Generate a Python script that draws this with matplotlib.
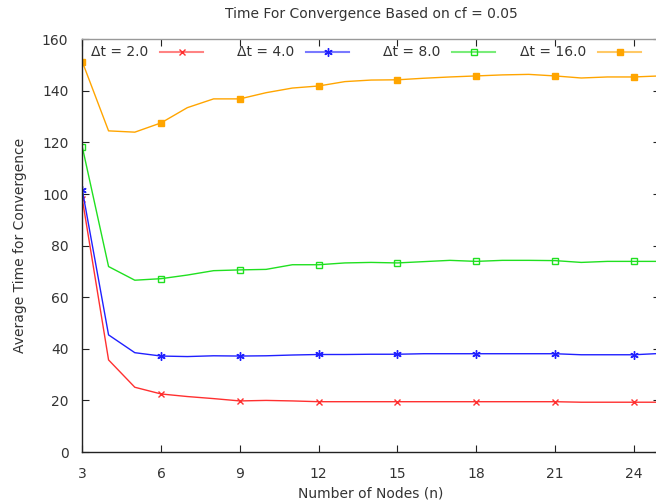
import matplotlib
matplotlib.use("Agg")
import matplotlib.pyplot as plt
from matplotlib.lines import Line2D

nodes = list(range(3, 26))
dt2 = [98.1, 35.7, 25.1, 22.5, 21.5, 20.7, 19.8, 20.0, 19.8, 19.5, 19.5, 19.5,
       19.5, 19.5, 19.5, 19.5, 19.5, 19.5, 19.5, 19.3, 19.3, 19.3, 19.3]
dt4 = [101.6, 45.4, 38.5, 37.2, 37.0, 37.3, 37.2, 37.3, 37.6, 37.8, 37.8, 37.9,
       37.9, 38.1, 38.1, 38.1, 38.1, 38.1, 38.1, 37.7, 37.7, 37.7, 38.2]
dt8 = [118.3, 71.9, 66.6, 67.2, 68.6, 70.3, 70.6, 70.8, 72.6, 72.6, 73.3, 73.5,
       73.3, 73.8, 74.3, 73.9, 74.3, 74.3, 74.2, 73.5, 73.9, 73.9, 73.9]
dt16 = [151.3, 124.5, 124.0, 127.6, 133.5, 136.9, 136.9, 139.3, 141.1, 141.9, 143.6, 144.2,
        144.3, 144.9, 145.4, 145.8, 146.2, 146.4, 145.8, 145.0, 145.4, 145.4, 145.8]
labels = ["\u0394t = 2.0", "\u0394t = 4.0", "\u0394t = 8.0", "\u0394t = 16.0"]
xticks = [3, 6, 9, 12, 15, 18, 21, 24]
yticks = [0, 20, 40, 60, 80, 100, 120, 140, 160]

plt.rcParams['font.family'] = ['DejaVu Sans']
txt = '#333333'

W, H = 656, 501
L, R, B, T = 82.3, 660, 49, 461.7
fig = plt.figure(figsize=(6.56, 5.01), dpi=100)
ax = fig.add_axes([L/W, B/H, (R-L)/W, (T-B)/H])

series = [dt2, dt4, dt8, dt16]
colors = ['#ff3030', '#2020ff', '#20e020', '#ffa500']
markers = ['x', (6, 2, 0), 's', 's']
mfc = ['#ff3030', '#2020ff', 'none', '#ffa500']
msz = [5, 6, 4.2, 4.5]
for ys, lab, c, m, fc, s in zip(series, labels, colors, markers, mfc, msz):
    ax.plot(nodes, ys, color=c, lw=1.0)
    ax.plot(nodes[::3], ys[::3], linestyle='none', marker=m, color=c,
            markerfacecolor=fc, markeredgecolor=c, markersize=s, markeredgewidth=1.0)

# gnuplot-style key: right-aligned text, then a line sample with marker
def fx(px):
    return (px - L) / (R - L)
def fy(py):
    return 1 - (py - (H - T)) / (T - B)

ky = fy(52.5)
for i, (lab, c, m, fc, s) in enumerate(zip(labels, colors, markers, mfc, msz)):
    tend = 148 + 146 * i
    ax.text(fx(tend), ky, lab, ha='right', va='center', fontsize=10, color=txt,
            transform=ax.transAxes)
    x0, x1 = tend + 12, tend + 55
    ax.add_line(Line2D([fx(x0), fx(x1)], [ky, ky], color=c, lw=1.5, alpha=0.6,
                       transform=ax.transAxes))
    ax.add_line(Line2D([fx((x0 + x1) / 2)], [ky], linestyle='none', marker=m, color=c,
                       markerfacecolor=fc, markeredgecolor=c, markersize=s,
                       markeredgewidth=1.0, transform=ax.transAxes))

ax.set_xlim(3, 25)
ax.set_ylim(0, 160)
ax.set_xticks(xticks)
ax.set_yticks(yticks)
ax.tick_params(direction='in', length=5, top=True, right=True, labelsize=10,
               labelcolor=txt, color='#222222')
ax.tick_params(axis='y', pad=10)
ax.tick_params(axis='x', pad=10.5)
for sp in ['left', 'bottom']:
    ax.spines[sp].set_color('#222222')
ax.spines['top'].set_color('#999999')
ax.spines['right'].set_color('#999999')
for sp in ax.spines.values():
    sp.set_linewidth(1.0)

ax.set_title('Time For Convergence Based on cf = 0.05', fontsize=10, color=txt, pad=15)
ax.set_xlabel('Number of Nodes (n)', fontsize=10, color=txt, labelpad=4)
ax.set_ylabel('Average Time for Convergence', fontsize=10, color=txt, labelpad=11)

fig.savefig('out.png', dpi=100)
